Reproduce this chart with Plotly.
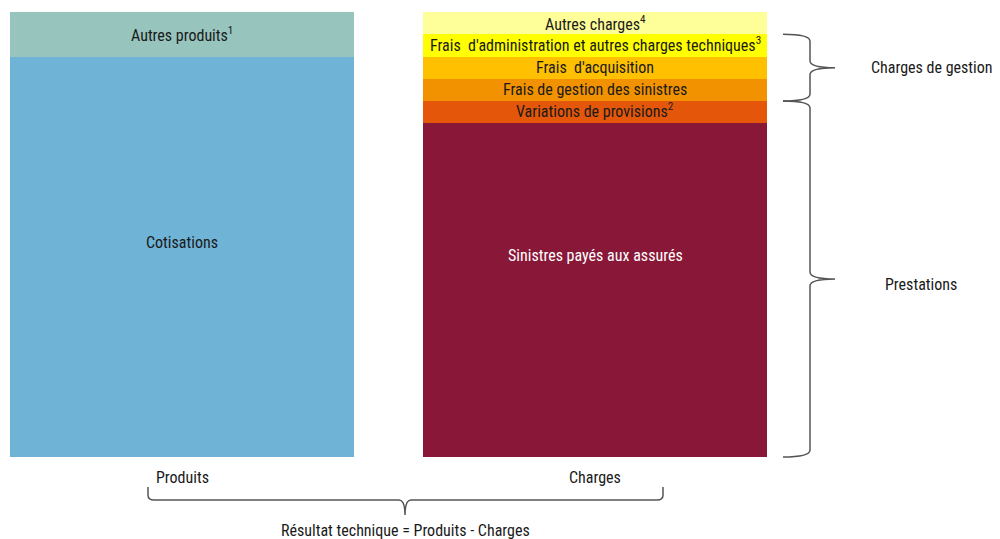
import plotly.graph_objects as go

# ---- data ----
bar_names = ["Produits", "Charges"]
produits_labels = ["Cotisations", "Autres produits<sup>1</sup>"]
produits_values = [90, 10]
charges_labels = [
    "Sinistres payés aux assurés",
    "Variations de provisions<sup>2</sup>",
    "Frais de gestion des sinistres",
    "Frais  d'acquisition",
    "Frais  d'administration et autres charges techniques<sup>3</sup>",
    "Autres charges<sup>4</sup>",
]
charges_values = [75, 5, 5, 5, 5, 5]
groups_labels = ["Charges de gestion", "Prestations"]
groups_segments = [[2, 3, 4], [0, 1]]   # indices of charges segments covered by each brace
result_label = "Résultat technique = Produits - Charges"

# ---- styles ----
produits_colors = ["#6FB3D6", "#97C4BD"]
charges_colors = ["#891838", "#E4570A", "#F39200", "#FFC000", "#FFFF00", "#FFFF99"]
produits_label_frac = [0.535, 0.5]
charges_label_frac = [0.605, 0.5, 0.5, 0.5, 0.5, 0.5]
charges_label_shift = [0, 2, 0, 0, 1, 0]
charges_text_colors = ["white", "#1a1a1a", "#1a1a1a", "#1a1a1a", "#1a1a1a", "#1a1a1a"]
groups_label_shift = [0, -5]
FONT = "Roboto Condensed, Arial Narrow, Liberation Sans, sans-serif"
FS = 16
BAR_W = 0.833

# page is drawn with an 8px body margin: figure covers page pixels 8..1000 / 8..539
OFF = 8
FIG_W, FIG_H = 1000 - OFF, 539 - OFF

# pixel helpers for layout constants (plot area covers the whole figure)
PX_X0, PX_UNIT = 182.0, 413.0
PX_Y0, PX_VUNIT = 457.0, 4.45
def ux(px):
    return (px - PX_X0) / PX_UNIT
def vy(py):
    return (PX_Y0 - py) / PX_VUNIT

fig = go.Figure()
for lab, val, col in zip(produits_labels, produits_values, produits_colors):
    fig.add_trace(go.Bar(x=[0], y=[val], width=BAR_W, marker=dict(color=col, line=dict(width=0)),
                         name=lab, hoverinfo="skip"))
for lab, val, col in zip(charges_labels, charges_values, charges_colors):
    fig.add_trace(go.Bar(x=[1], y=[val], width=BAR_W, marker=dict(color=col, line=dict(width=0)),
                         name=lab, hoverinfo="skip"))

annotations = []
base = 0
for lab, val, fr in zip(produits_labels, produits_values, produits_label_frac):
    annotations.append(dict(x=0, y=base + val * fr, text=lab, showarrow=False,
                            font=dict(family=FONT, size=FS, color="#1a1a1a")))
    base += val
cum = [0]
for v in charges_values:
    cum.append(cum[-1] + v)
for i, (lab, val, fr, tc, sh) in enumerate(zip(charges_labels, charges_values, charges_label_frac,
                                               charges_text_colors, charges_label_shift)):
    annotations.append(dict(x=1, y=cum[i] + val * fr, text=lab, showarrow=False, yshift=sh,
                            font=dict(family=FONT, size=FS, color=tc)))

for i, name in enumerate(bar_names):
    annotations.append(dict(x=i, y=vy(477), text=name, showarrow=False,
                            font=dict(family=FONT, size=FS, color="#1a1a1a")))

# right braces
shapes = []
x_end, x_sp, x_tip = ux(783), ux(810), ux(835)
rv = 7 / PX_VUNIT
label_x = [ux(932), ux(921)]
for gi, (glab, segs) in enumerate(zip(groups_labels, groups_segments)):
    top = cum[max(segs) + 1]
    bot = cum[min(segs)]
    mid = (top + bot) / 2
    path = (f"M {x_end},{top} Q {x_sp},{top} {x_sp},{top - rv} "
            f"L {x_sp},{mid + rv} Q {x_sp},{mid} {x_tip},{mid} "
            f"Q {x_sp},{mid} {x_sp},{mid - rv} "
            f"L {x_sp},{bot + rv} Q {x_sp},{bot} {x_end},{bot}")
    shapes.append(dict(type="path", path=path, xref="x", yref="y",
                       line=dict(color="#555555", width=1.5)))
    annotations.append(dict(x=label_x[gi], y=mid, text=glab, showarrow=False,
                            yshift=groups_label_shift[gi],
                            font=dict(family=FONT, size=FS, color="#1a1a1a")))

# bottom brace
bx0, bx1, bxm = ux(148), ux(663), ux(405)
by0, by1, by2 = vy(487), vy(500), vy(515)
rh = 6 / PX_UNIT
rvv = 5 / PX_VUNIT
path = (f"M {bx0},{by0} L {bx0},{by1 + rvv} Q {bx0},{by1} {bx0 + rh},{by1} "
        f"L {bxm - rh},{by1} Q {bxm},{by1} {bxm},{by2} "
        f"Q {bxm},{by1} {bxm + rh},{by1} "
        f"L {bx1 - rh},{by1} Q {bx1},{by1} {bx1},{by1 + rvv} L {bx1},{by0}")
shapes.append(dict(type="path", path=path, xref="x", yref="y",
                   line=dict(color="#555555", width=1.5)))
annotations.append(dict(x=bxm, y=vy(530), text=result_label, showarrow=False,
                        font=dict(family=FONT, size=FS, color="#1a1a1a")))

fig.update_layout(
    barmode="stack",
    width=FIG_W, height=FIG_H,
    margin=dict(l=0, r=0, t=0, b=0),
    paper_bgcolor="white", plot_bgcolor="white",
    showlegend=False,
    xaxis=dict(range=[ux(OFF), ux(1000)], visible=False, fixedrange=True),
    yaxis=dict(range=[vy(539), vy(OFF)], visible=False, fixedrange=True),
    annotations=annotations,
    shapes=shapes,
    font=dict(family=FONT, size=FS),
)
fig.write_html("out.html")
